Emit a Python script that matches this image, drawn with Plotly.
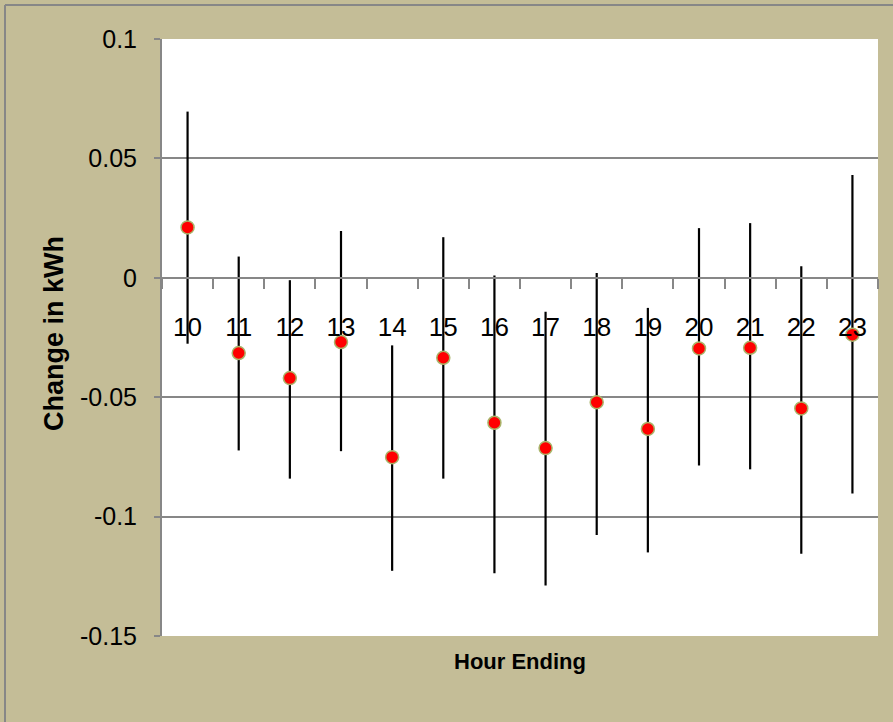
import plotly.graph_objects as go

hours = ["10", "11", "12", "13", "14", "15", "16", "17", "18", "19", "20", "21", "22", "23"]
change = [0.0211, -0.0315, -0.0420, -0.0269, -0.0751, -0.0335, -0.0607, -0.0713, -0.0521, -0.0633, -0.0296, -0.0293, -0.0547, -0.0238]
upper = [0.0696, 0.0089, -0.0010, 0.0196, -0.0283, 0.0170, 0.0010, -0.0142, 0.0020, -0.0126, 0.0208, 0.0229, 0.0048, 0.0431]
lower = [-0.0276, -0.0723, -0.0841, -0.0726, -0.1227, -0.0841, -0.1237, -0.1289, -0.1077, -0.1150, -0.0786, -0.0802, -0.1156, -0.0903]
y_ticks = [0.1, 0.05, 0, -0.05, -0.1, -0.15]
y_tick_text = ["0.1", "0.05", "0", "-0.05", "-0.1", "-0.15"]

err_plus = [u - c for u, c in zip(upper, change)]
err_minus = [c - l for c, l in zip(change, lower)]

TAN = "#C4BD97"
GRAY = "#878787"
FONT = "Liberation Sans, Arial, sans-serif"

fig = go.Figure()
fig.add_trace(go.Scatter(
    x=hours, y=change, mode="markers",
    marker=dict(size=13, color="#FF0000", line=dict(color="#A9B46A", width=1.5)),
    error_y=dict(type="data", symmetric=False, array=err_plus, arrayminus=err_minus,
                 color="black", thickness=2.2, width=0),
    showlegend=False,
))

W, H = 893, 722
L, R, T, B = 162, 15, 39, 86
pw, ph = W - L - R, H - T - B

def px(x):
    return (x - L) / pw

def py(y):
    return (H - B - y) / ph

fig.update_layout(
    width=W, height=H,
    margin=dict(l=L, r=R, t=T, b=B, autoexpand=False),
    paper_bgcolor=TAN, plot_bgcolor="white",
    xaxis=dict(
        type="category", range=[-0.5, 13.5],
        anchor="free", position=0.6, automargin=False,
        showgrid=False, zeroline=False,
        showline=True, linecolor=GRAY, linewidth=2,
        ticks="outside", ticklen=10, tickwidth=2, tickcolor=GRAY,
        tickson="boundaries",
        tickfont=dict(family=FONT, size=26, color="black"),
        ticklabelstandoff=26,
    ),
    yaxis=dict(
        range=[-0.15, 0.1], automargin=False,
        tickvals=y_ticks, ticktext=y_tick_text,
        showgrid=True, gridcolor=GRAY, gridwidth=2,
        zeroline=True, zerolinecolor=GRAY, zerolinewidth=2,
        showline=True, linecolor=GRAY, linewidth=2,
        ticks="outside", ticklen=6, tickwidth=2, tickcolor=GRAY,
        tickfont=dict(family=FONT, size=25, color="black"),
        ticklabelstandoff=12,
    ),
    annotations=[
        dict(text="<b>Change in kWh</b>", xref="paper", yref="paper",
             x=px(54), y=py(334), textangle=-90, showarrow=False,
             font=dict(family=FONT, size=27, color="black"),
             xanchor="center", yanchor="middle"),
        dict(text="<b>Hour Ending</b>", xref="paper", yref="paper",
             x=px(520), y=py(661), showarrow=False,
             font=dict(family=FONT, size=22, color="black"),
             xanchor="center", yanchor="middle"),
    ],
    shapes=[
        dict(type="line", xref="paper", yref="paper", x0=px(5), x1=px(893), y0=py(5), y1=py(5),
             line=dict(color=GRAY, width=2)),
        dict(type="line", xref="paper", yref="paper", x0=px(5), x1=px(5), y0=py(5), y1=py(722),
             line=dict(color=GRAY, width=2)),
    ],
)

fig.write_html(
    "out.html",
    config={"displayModeBar": False},
    post_script="document.body.style.margin='0';document.body.style.padding='0';document.body.style.overflow='hidden';",
)
